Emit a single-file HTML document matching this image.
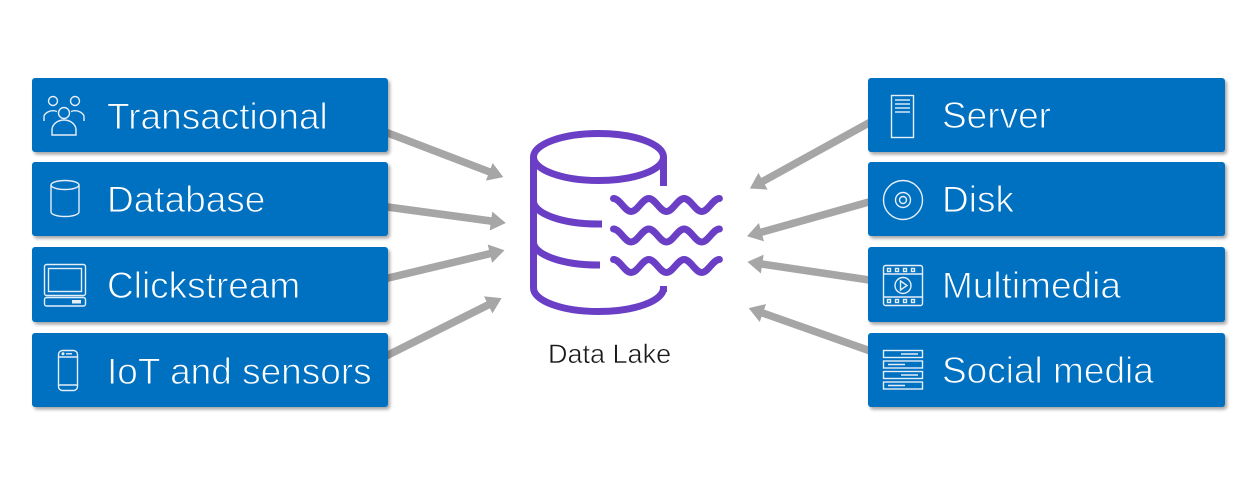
<!DOCTYPE html>
<html>
<head>
<meta charset="utf-8">
<style>
  html,body{margin:0;padding:0;background:#fff;}
  body{width:1240px;height:500px;overflow:hidden;}
  svg{display:block;}
  .lbl{font-family:"Liberation Sans",sans-serif;font-size:37px;fill:#fff;stroke:#0070c0;stroke-width:0.9;paint-order:fill;}
  .ic{fill:none;stroke:#e6eef8;stroke-width:1.4;}
</style>
</head>
<body>
<svg width="1240" height="500" viewBox="0 0 1240 500" xmlns="http://www.w3.org/2000/svg">
  <defs>
    <filter id="sh" x="-5%" y="-10%" width="115%" height="130%">
      <feDropShadow dx="2" dy="2.5" stdDeviation="1.6" flood-color="#000" flood-opacity="0.35"/>
    </filter>
  </defs>
  <rect width="1240" height="500" fill="#fff"/>

  <!-- arrows (left) -->
  <g fill="#a6a6a6">
    <g transform="translate(380,130) rotate(20.94)">
      <rect x="0" y="-3.8" width="120" height="7.6"/>
      <polygon points="117,-9.5 132,0 117,9.5"/>
    </g>
    <g transform="translate(380,206) rotate(7.72)">
      <rect x="0" y="-3.8" width="115" height="7.6"/>
      <polygon points="112,-9.5 127,0 112,9.5"/>
    </g>
    <g transform="translate(380,280) rotate(-13.46)">
      <rect x="0" y="-3.8" width="115" height="7.6"/>
      <polygon points="113,-9.5 128,0 113,9.5"/>
    </g>
    <g transform="translate(380,359) rotate(-26.57)">
      <rect x="0" y="-3.8" width="122" height="7.6"/>
      <polygon points="121,-9.5 136,0 121,9.5"/>
    </g>
    <!-- arrows (right) -->
    <g transform="translate(876,119) rotate(151.15)">
      <rect x="0" y="-3.8" width="131" height="7.6"/>
      <polygon points="129,-9.5 144,0 129,9.5"/>
    </g>
    <g transform="translate(876,200) rotate(164.31)">
      <rect x="0" y="-3.8" width="121" height="7.6"/>
      <polygon points="119,-9.5 134,0 119,9.5"/>
    </g>
    <g transform="translate(876,281) rotate(188.46)">
      <rect x="0" y="-3.8" width="117" height="7.6"/>
      <polygon points="115,-9.5 130,0 115,9.5"/>
    </g>
    <g transform="translate(876,353) rotate(199.44)">
      <rect x="0" y="-3.8" width="122" height="7.6"/>
      <polygon points="120,-9.5 135,0 120,9.5"/>
    </g>
  </g>

  <!-- boxes -->
  <g fill="#0070c0" filter="url(#sh)">
    <rect x="32" y="78" width="356" height="74" rx="3"/>
    <rect x="32" y="162" width="356" height="74" rx="3"/>
    <rect x="32" y="247" width="356" height="75" rx="3"/>
    <rect x="32" y="333" width="356" height="74" rx="3"/>
    <rect x="868" y="78" width="357" height="74" rx="3"/>
    <rect x="868" y="162" width="357" height="74" rx="3"/>
    <rect x="868" y="247" width="357" height="75" rx="3"/>
    <rect x="868" y="333" width="357" height="74" rx="3"/>
  </g>

  <!-- labels -->
  <text class="lbl" x="107" y="129">Transactional</text>
  <text class="lbl" x="107" y="212">Database</text>
  <text class="lbl" x="107" y="298">Clickstream</text>
  <text class="lbl" x="107" y="384">IoT and sensors</text>
  <text class="lbl" x="942" y="128">Server</text>
  <text class="lbl" x="942" y="212">Disk</text>
  <text class="lbl" x="942" y="298">Multimedia</text>
  <text class="lbl" x="942" y="383">Social media</text>

  <!-- icons left -->
  <g class="ic">
    <!-- people -->
    <circle cx="53" cy="101" r="4.5"/>
    <circle cx="75" cy="101" r="4.5"/>
    <path d="M44,121 v-3 a9,6.5 0 0 1 13,-6.5"/>
    <path d="M84,121 v-3 a9,6.5 0 0 0 -13,-6.5"/>
    <circle cx="64" cy="113" r="5.5"/>
    <path d="M52,135 v-5 a12,10 0 0 1 24,0 v5 z"/>
    <!-- database -->
    <ellipse cx="65" cy="185" rx="14" ry="4.5"/>
    <path d="M51,185 v27 a14,4.5 0 0 0 28,0 v-27"/>
    <!-- clickstream -->
    <rect x="44.5" y="264.5" width="41" height="31" rx="2"/>
    <rect x="48.5" y="268.5" width="33" height="23"/>
    <rect x="44.5" y="297.5" width="41" height="8.5" rx="2"/>
    <rect x="72" y="300" width="9" height="3.5" fill="#e6eef8" stroke="none"/>
    <!-- phone -->
    <rect x="58.5" y="350.5" width="19" height="40" rx="4"/>
    <line x1="58.5" y1="357" x2="77.5" y2="357"/>
    <line x1="58.5" y1="385" x2="77.5" y2="385"/>
    <circle cx="63" cy="353.8" r="0.8" fill="#e6eef8"/>
    <line x1="66" y1="353.8" x2="72" y2="353.8"/>
  </g>

  <!-- icons right -->
  <g class="ic">
    <!-- server -->
    <rect x="891.5" y="95.5" width="22" height="42"/>
    <line x1="895" y1="100" x2="910" y2="100"/>
    <line x1="895" y1="104" x2="910" y2="104"/>
    <line x1="895" y1="108" x2="910" y2="108"/>
    <line x1="895" y1="112" x2="910" y2="112"/>
    <!-- disk -->
    <circle cx="903" cy="200" r="19.5"/>
    <circle cx="903" cy="200" r="7.5"/>
    <circle cx="903" cy="200" r="3.5"/>
    <!-- multimedia -->
    <rect x="883.5" y="265.5" width="39" height="40" rx="2"/>
    <line x1="883.5" y1="274" x2="922.5" y2="274"/>
    <line x1="883.5" y1="297" x2="922.5" y2="297"/>
    <rect x="887.5" y="268.5" width="3" height="3"/>
    <rect x="895.5" y="268.5" width="3" height="3"/>
    <rect x="903.5" y="268.5" width="3" height="3"/>
    <rect x="911.5" y="268.5" width="3" height="3"/>
    <rect x="887.5" y="299.5" width="3" height="3"/>
    <rect x="895.5" y="299.5" width="3" height="3"/>
    <rect x="903.5" y="299.5" width="3" height="3"/>
    <rect x="911.5" y="299.5" width="3" height="3"/>
    <circle cx="903" cy="285.5" r="8"/>
    <path d="M900.5,281 L907,285.5 L900.5,290 Z"/>
    <!-- social -->
    <rect x="883.5" y="350.5" width="39" height="7"/>
    <rect x="883.5" y="361" width="39" height="7"/>
    <rect x="883.5" y="371.5" width="39" height="7"/>
    <rect x="883.5" y="382" width="39" height="7"/>
    <line x1="901" y1="354" x2="918" y2="354"/>
    <line x1="888" y1="364.5" x2="905" y2="364.5"/>
    <line x1="901" y1="375" x2="918" y2="375"/>
    <line x1="888" y1="385.5" x2="905" y2="385.5"/>
  </g>

  <!-- data lake icon -->
  <g fill="none" stroke="#6a3fc6" stroke-width="7">
    <ellipse cx="598.5" cy="157" rx="65" ry="23.5"/>
    <path d="M533.5,157 V288 A65,23.5 0 0 0 663.5,288 V286"/>
    <path d="M663.5,157 V186"/>
    <path d="M663.5,287 V292"/>
    <path d="M533.5,201 A65,23 0 0 0 598.5,224 H602"/>
    <path d="M533.5,242 A65,23 0 0 0 598.5,265 H600"/>
    <g stroke-linecap="round">
      <path d="M613.5,198.5 c6.41,0 11.24,13 17.65,13 s11.24,-13 17.65,-13 s11.24,13 17.65,13 s11.24,-13 17.65,-13 s11.24,13 17.65,13 s11.24,-13 17.65,-13"/>
      <path d="M613.5,229 c6.41,0 11.24,13 17.65,13 s11.24,-13 17.65,-13 s11.24,13 17.65,13 s11.24,-13 17.65,-13 s11.24,13 17.65,13 s11.24,-13 17.65,-13"/>
      <path d="M613.5,259.5 c6.41,0 11.24,13 17.65,13 s11.24,-13 17.65,-13 s11.24,13 17.65,13 s11.24,-13 17.65,-13 s11.24,13 17.65,13 s11.24,-13 17.65,-13"/>
    </g>
  </g>
  <text x="548" y="363" font-family="Liberation Sans, sans-serif" font-size="27" fill="#1a1a1a" stroke="#fff" stroke-width="0.5">Data Lake</text>
</svg>
</body>
</html>
